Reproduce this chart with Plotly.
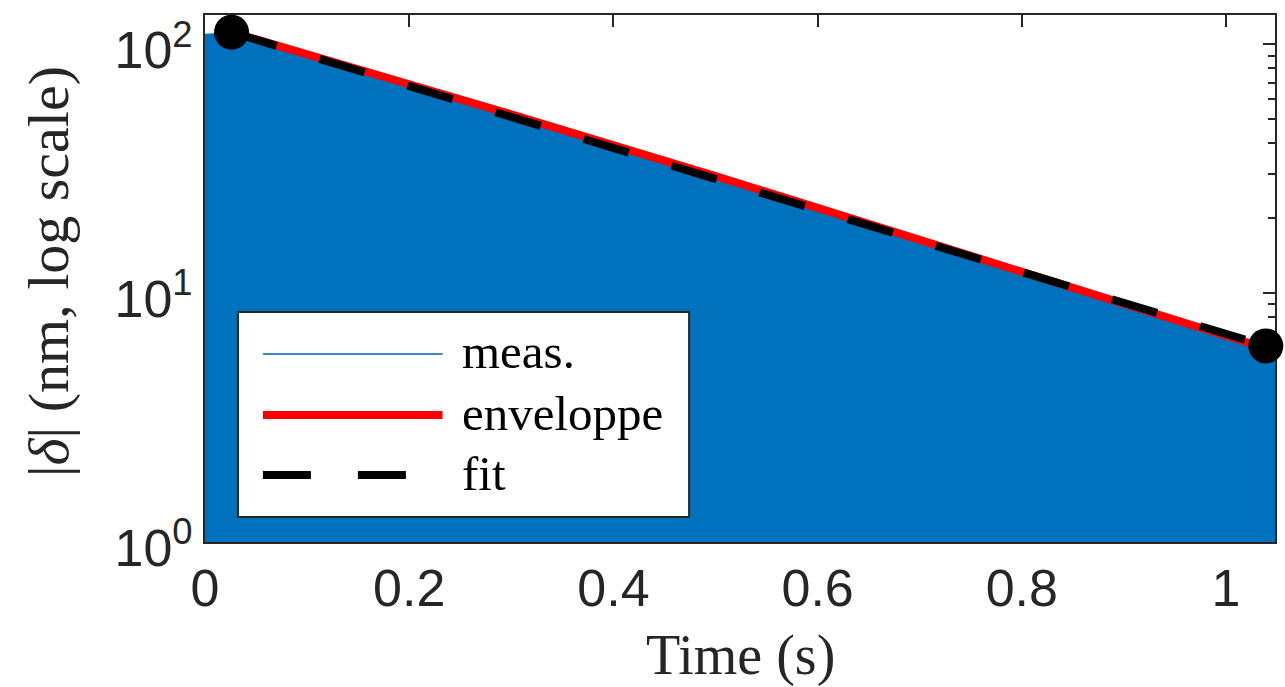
import plotly.graph_objects as go

# Measured displacement (upper edge of the dense oscillation), nm
t_meas = [0.0, 0.026, 0.1, 0.2, 0.3, 0.4, 0.5, 0.6, 0.7, 0.8, 0.9, 1.0, 1.039, 1.048]
d_meas = [110.0, 111.7, 91.5, 69.0, 52.2, 39.5, 29.5, 22.0, 16.4, 12.3, 9.2, 6.85, 6.0, 5.9]

# Envelope of the measured signal
t_env = [0.026, 0.1, 0.2, 0.3, 0.4, 0.5, 0.6, 0.7, 0.8, 0.9, 1.0, 1.039]
d_env = [111.7, 91.5, 69.0, 52.2, 39.5, 29.5, 22.0, 16.4, 12.3, 9.2, 6.85, 6.0]

# Exponential fit (straight on log scale) between the two anchor points
t_fit = [0.026, 1.039]
d_fit = [111.7, 6.13]

x_ticks = [0, 0.2, 0.4, 0.6, 0.8, 1.0]
x_ticktext = ["0", "0.2", "0.4", "0.6", "0.8", "1"]
y_ticks = [1, 10, 100]
y_ticktext = ["10<sup>0</sup>", "10<sup>1</sup>", "10<sup>2</sup>"]
y_minor = [2, 3, 4, 5, 6, 7, 8, 9, 20, 30, 40, 50, 60, 70, 80, 90]

legend_names = ["meas.", "enveloppe", "fit"]

BLUE = "#0072BD"
INK = "#262626"
SERIF = "Liberation Serif, Times New Roman, serif"
SANS = "Liberation Sans, Arial, Helvetica, sans-serif"

# plot-area geometry in pixels (used for the boxed legend)
W, H = 1285, 687
ML, MR, MT, MB = 205, 8, 15, 145
PW, PH = W - ML - MR, H - MT - MB


def px(x):
    return (x - ML) / PW


def py(y):
    return (H - MB - y) / PH


fig = go.Figure()

# baseline below the visible range so the fill reaches the bottom of the axes
fig.add_trace(go.Scatter(
    x=t_meas, y=[0.5] * len(t_meas), mode="lines",
    line=dict(width=0, color=BLUE), showlegend=False, hoverinfo="skip"))
fig.add_trace(go.Scatter(
    x=t_meas, y=d_meas, mode="lines", fill="tonexty", name=legend_names[0],
    fillcolor=BLUE, line=dict(width=0, color=BLUE), showlegend=False))
fig.add_trace(go.Scatter(
    x=t_env, y=d_env, mode="lines", name=legend_names[1], showlegend=False,
    line=dict(width=8, color="#FF0000")))
fig.add_trace(go.Scatter(
    x=t_fit, y=d_fit, mode="lines", name=legend_names[2], showlegend=False,
    line=dict(width=8, color="black", dash="47px,45px")))
fig.add_trace(go.Scatter(
    x=t_fit, y=d_fit, mode="markers", showlegend=False, cliponaxis=False,
    marker=dict(size=35, color="black")))

# boxed legend
shapes = [
    dict(type="rect", xref="paper", yref="paper",
         x0=px(238), x1=px(690), y0=py(517), y1=py(312),
         fillcolor="white", line=dict(color=INK, width=2), layer="above"),
]
legend_styles = [
    dict(color="#3a86cf", width=2),
    dict(color="#FF0000", width=8),
    dict(color="black", width=8, dash="48px,47px"),
]
legend_rows = [354, 415, 475]
annotations = []
for name, style, yrow in zip(legend_names, legend_styles, legend_rows):
    shapes.append(dict(type="line", xref="paper", yref="paper",
                       x0=px(263), x1=px(443), y0=py(yrow), y1=py(yrow),
                       line=style, layer="above"))
    annotations.append(dict(text=name, xref="paper", yref="paper",
                            x=px(460), y=py(yrow - 2), xanchor="left", yanchor="middle",
                            showarrow=False,
                            font=dict(family=SERIF, size=49, color="black")))

annotations += [
    dict(text="Time (s)", xref="paper", yref="paper", x=0.5, y=0,
         yshift=-113, xanchor="center", yanchor="middle", showarrow=False,
         font=dict(family=SERIF, size=56, color=INK)),
    dict(text="|<i>δ</i>| (nm, log scale)", xref="paper", yref="paper", x=0, y=py(272),
         xshift=-157, xanchor="center", yanchor="middle", textangle=-90,
         showarrow=False, font=dict(family=SERIF, size=58, color=INK)),
]

fig.update_layout(
    width=W, height=H,
    margin=dict(l=ML, r=MR, t=MT, b=MB),
    paper_bgcolor="white", plot_bgcolor="white",
    showlegend=False,
    xaxis=dict(
        range=[0, 1.048], tickvals=x_ticks, ticktext=x_ticktext,
        ticks="inside", ticklen=12, tickwidth=2, tickcolor=INK,
        showline=True, linecolor=INK, linewidth=2, mirror="ticks",
        showgrid=False, zeroline=False, layer="below traces",
        tickfont=dict(family=SANS, size=52, color=INK)),
    yaxis=dict(
        type="log", range=[0, 2.117], tickvals=y_ticks, ticktext=y_ticktext,
        ticks="inside", ticklen=12, tickwidth=2, tickcolor=INK,
        showline=True, linecolor=INK, linewidth=2, mirror="ticks",
        showgrid=False, zeroline=False, layer="below traces",
        ticklabelshift=6,
        minor=dict(tickmode="array", tickvals=y_minor, ticks="inside",
                   ticklen=7, tickwidth=2, tickcolor=INK, showgrid=False),
        tickfont=dict(family=SANS, size=52, color=INK)),
    shapes=shapes,
    annotations=annotations,
)

fig.write_html("out.html")
